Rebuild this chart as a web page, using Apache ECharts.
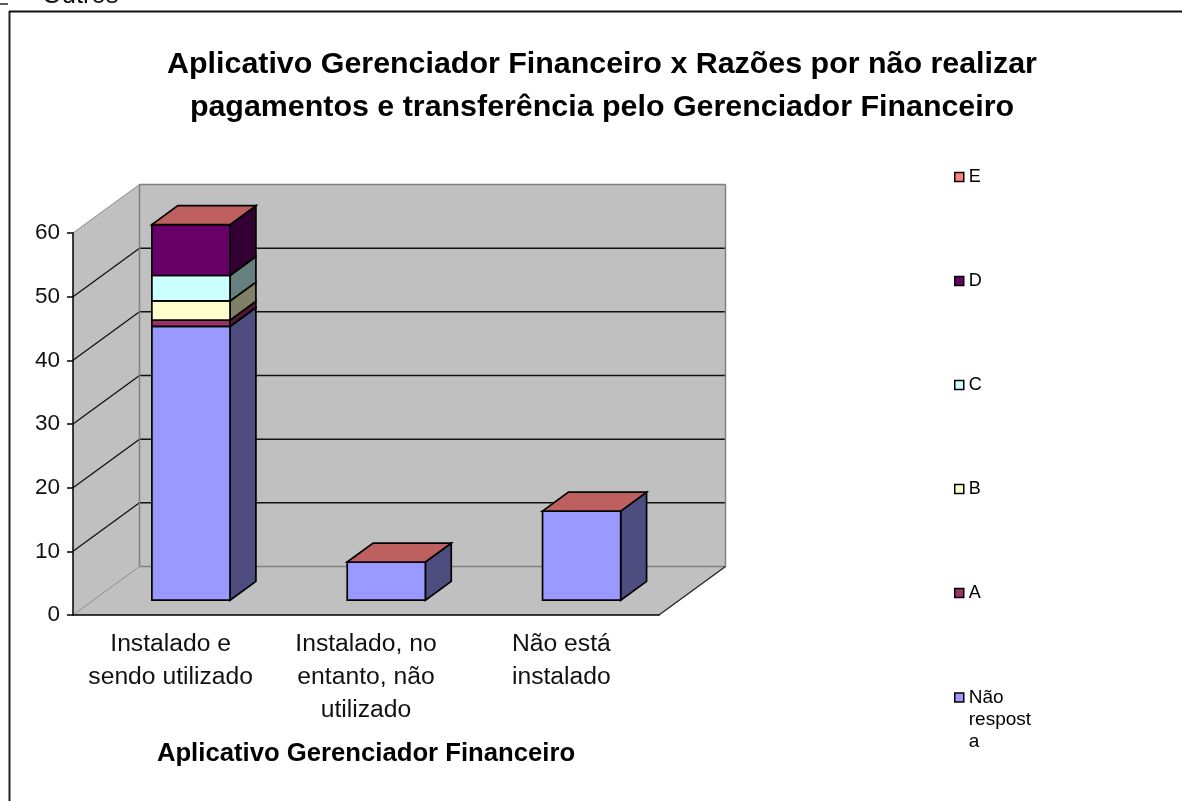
<!DOCTYPE html>
<html><head><meta charset="utf-8">
<style>html,body{margin:0;padding:0;background:#fff;overflow:hidden}#c{width:1182px;height:801px}</style>
<script src="https://cdn.jsdelivr.net/npm/echarts@6/dist/echarts.min.js"></script>
</head><body><div id="c"></div>
<script>
const categories = ['Instalado e\nsendo utilizado', 'Instalado, no\nentanto, não\nutilizado', 'Não está\ninstalado'];
const naoResposta = [43, 6, 14];
const serieA = [1, 0, 0];
const serieB = [3, 0, 0];
const serieC = [4, 0, 0];
const serieD = [8, 0, 0];
const serieE = [0, 0, 0];
const yTicks = [0, 10, 20, 30, 40, 50, 60];
const FONT = '"Liberation Sans", Arial, sans-serif';

const stackDefs = [
  {name: 'Não\nrespost\na', values: naoResposta, color: '#9999FF', side: '#4D4D80'},
  {name: 'A', values: serieA, color: '#993366', side: '#4D1A33'},
  {name: 'B', values: serieB, color: '#FFFFCC', side: '#808066'},
  {name: 'C', values: serieC, color: '#CCFFFF', side: '#668080'},
  {name: 'D', values: serieD, color: '#660066', side: '#330033'},
  {name: 'E', values: serieE, color: '#FF8080', side: '#804040', top: '#BF6060'}
];

const DX = 66.5, DY = -48.5, D0 = 0.305, D1 = 0.715, BAR = 0.4;

function poly(points, fill, stroke, lw) {
  return {type: 'polygon', shape: {points}, style: {fill, stroke: stroke || 'none', lineWidth: lw === undefined ? 1 : lw}};
}
function seg(a, b, stroke, lw) {
  return {type: 'line', shape: {x1: a[0], y1: a[1], x2: b[0], y2: b[1]}, style: {stroke, lineWidth: lw || 1}};
}

function renderWalls(params, api) {
  const cs = params.coordSys, L = cs.x, R = cs.x + cs.width;
  const b = api.coord([0, 0])[1], t = api.coord([0, 60])[1];
  const wall = '#C0C0C0', edge = '#808080';
  const kids = [
    poly([[L, t], [L + DX, t + DY], [L + DX, b + DY], [L, b]], wall),
    poly([[L, b], [R, b], [R + DX, b + DY], [L + DX, b + DY]], wall),
    poly([[L + DX, t + DY], [R + DX, t + DY], [R + DX, b + DY], [L + DX, b + DY]], wall)
  ];
  yTicks.forEach(v => {
    const y = api.coord([0, v])[1];
    const outer = v === 0 || v === 60;
    kids.push(seg([L, y], [L + DX, y + DY], outer ? '#8a8a8a' : '#111', outer ? 1 : 1.3));
    kids.push(seg([L + DX, y + DY], [R + DX, y + DY], outer ? edge : '#111', 1.5));
  });
  kids.push(seg([L + DX, t + DY], [L + DX, b + DY], edge, 1.5));
  kids.push(seg([R + DX, t + DY], [R + DX, b + DY], edge, 1.5));
  kids.push(seg([R, b], [R + DX, b + DY], '#222', 1.3));
  return {type: 'group', children: kids};
}

function makeRender(si) {
  const def = stackDefs[si];
  return function (params, api) {
    const idx = api.value(0);
    let base = 0;
    for (let k = 0; k < si; k++) base += stackDefs[k].values[idx];
    const val = api.value(1);
    const band = api.size([1, 0])[0];
    const c = api.coord([idx, base]);
    const topY = api.coord([idx, base + val])[1];
    const x0 = c[0] - band * BAR / 2 + DX * D0;
    const x1 = x0 + band * BAR;
    const yb = c[1] + DY * D0, yt = topY + DY * D0;
    const ox = DX * (D1 - D0) * 0.95, oy = DY * (D1 - D0) * 0.95;
    const kids = [];
    const last = si === stackDefs.length - 1;
    if (val > 0) {
      kids.push(poly([[x1, yb], [x1 + ox, yb + oy], [x1 + ox, yt + oy], [x1, yt]], def.side, '#000', 1.7));
      kids.push(poly([[x0, yb], [x1, yb], [x1, yt], [x0, yt]], def.color, '#000', 1.7));
    }
    if (last) {
      kids.push(poly([[x0, yt], [x1, yt], [x1 + ox, yt + oy], [x0 + ox, yt + oy]], def.top, '#000', 1.7));
    }
    return {type: 'group', children: kids};
  };
}

const option = {
  animation: false,
  backgroundColor: '#fff',
  textStyle: {fontFamily: FONT},
  title: {
    text: 'Aplicativo Gerenciador Financeiro x Razões por não realizar\npagamentos e transferência pelo Gerenciador Financeiro',
    left: 597, top: 38, textAlign: 'center',
    textStyle: {fontFamily: FONT, fontWeight: 'bold', fontSize: 30.4, lineHeight: 43, color: '#000'}
  },
  grid: {left: 73, top: 233, width: 586, height: 382},
  xAxis: {
    type: 'category', data: categories, z: 5,
    axisLine: {lineStyle: {color: '#000', width: 1.5}},
    axisTick: {length: 6, lineStyle: {color: '#000', width: 1.5}},
    axisLabel: {interval: 0, fontSize: 24.7, lineHeight: 33, color: '#111', margin: 13, fontFamily: FONT},
    name: 'Aplicativo Gerenciador Financeiro', nameLocation: 'middle', nameGap: 126,
    nameTextStyle: {fontFamily: FONT, fontWeight: 'bold', fontSize: 25.7, color: '#000'}
  },
  yAxis: {
    type: 'value', min: 0, max: 60, interval: 10, z: 5,
    axisLine: {show: true, lineStyle: {color: '#000', width: 1.5}},
    axisTick: {show: true, length: 6, lineStyle: {color: '#000', width: 1.5}},
    axisLabel: {fontSize: 22.5, color: '#111', margin: 13, fontFamily: FONT},
    splitLine: {show: false}
  },
  legend: [
    {
      orient: 'vertical', left: 949, top: 163, itemWidth: 9, itemHeight: 9, itemGap: 86,
      data: ['E', 'D', 'C', 'B', 'A'],
      itemStyle: {borderColor: '#000', borderWidth: 1.5},
      icon: 'rect', selectedMode: false,
      textStyle: {fontFamily: FONT, fontSize: 18, color: '#000', padding: [0, 0, 0, 0]}
    },
    {
      orient: 'vertical', left: 949, top: 682, itemWidth: 9, itemHeight: 54, itemGap: 0,
      data: [stackDefs[0].name],
      itemStyle: {borderColor: '#000', borderWidth: 1.5},
      icon: 'path://M0 0H10V10H0Z M0 60L0 60',
      selectedMode: false,
      textStyle: {fontFamily: FONT, fontSize: 19, lineHeight: 22, color: '#000', padding: [0, 0, 0, 0]}
    }
  ],
  series: [
    {type: 'custom', name: 'walls', z: 1, silent: true, data: [[0]], renderItem: renderWalls,
     encode: {x: 0}, clip: false}
  ].concat(stackDefs.map((d, i) => ({
    type: 'custom', name: d.name, z: 2 + i, silent: true,
    itemStyle: {color: d.color},
    data: d.values.map((v, idx) => [idx, v]),
    encode: {x: 0, y: 1}, clip: false,
    renderItem: makeRender(i)
  }))),
  graphic: [
    {type: 'line', shape: {x1: 9.5, y1: 11, x2: 9.5, y2: 801}, style: {stroke: '#222', lineWidth: 2}},
    {type: 'line', shape: {x1: 9, y1: 11.5, x2: 1182, y2: 11.5}, style: {stroke: '#111', lineWidth: 2}},
    {type: 'line', shape: {x1: 0, y1: 4, x2: 8, y2: 4}, style: {stroke: '#222', lineWidth: 1.5}},
    {type: 'text', left: 42, top: -17, style: {text: 'Outros', fontFamily: FONT, fontSize: 25.5, fill: '#111'}}
  ]
};
const chart = echarts.init(document.getElementById('c'), null, {renderer: 'canvas'});
chart.setOption(option);
</script></body></html>
